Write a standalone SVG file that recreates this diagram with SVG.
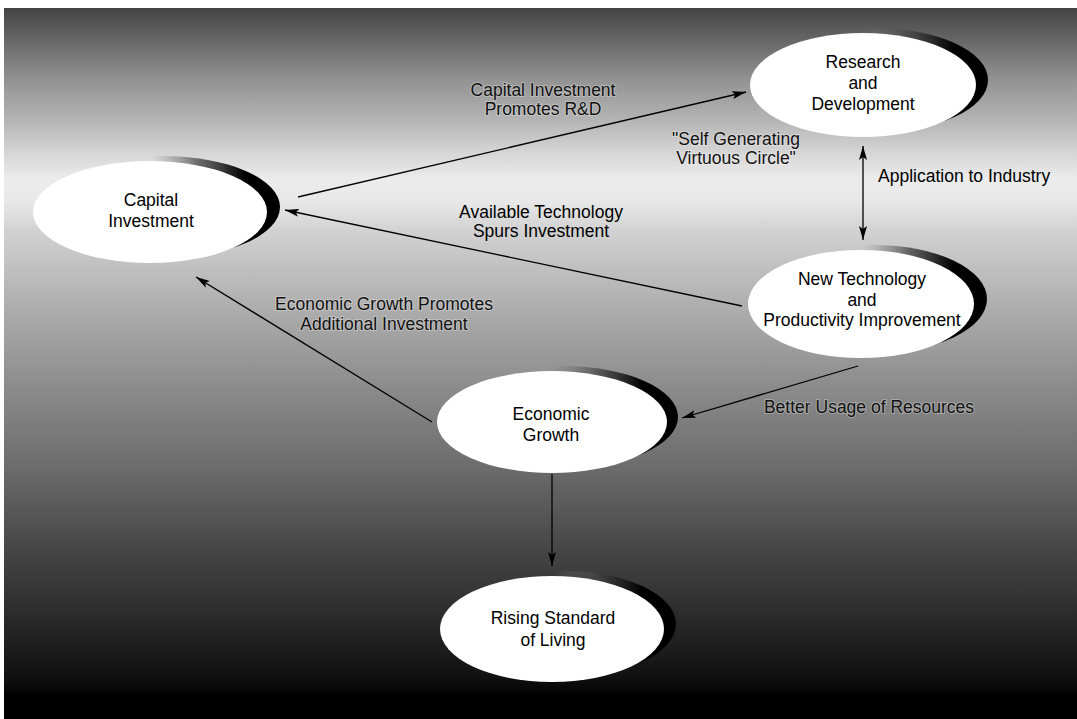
<svg xmlns="http://www.w3.org/2000/svg" width="1077" height="719" viewBox="0 0 1077 719">
<defs>
<linearGradient id="bg" gradientUnits="userSpaceOnUse" x1="0" y1="0" x2="0" y2="719">
<stop offset="0.011" stop-color="#444444"/>
<stop offset="0.05" stop-color="#626262"/>
<stop offset="0.11" stop-color="#929292"/>
<stop offset="0.167" stop-color="#b4b4b4"/>
<stop offset="0.21" stop-color="#d4d4d4"/>
<stop offset="0.25" stop-color="#ececec"/>
<stop offset="0.28" stop-color="#e8e8e8"/>
<stop offset="0.32" stop-color="#d2d2d2"/>
<stop offset="0.42" stop-color="#b0b0b0"/>
<stop offset="0.55" stop-color="#888888"/>
<stop offset="0.65" stop-color="#6c6c6c"/>
<stop offset="0.76" stop-color="#474747"/>
<stop offset="0.86" stop-color="#2a2a2a"/>
<stop offset="0.94" stop-color="#111111"/>
<stop offset="0.97" stop-color="#000000"/>
</linearGradient>
<linearGradient id="sh" x1="0" y1="0" x2="1" y2="0">
<stop offset="0.45" stop-color="#777" stop-opacity="0"/>
<stop offset="0.65" stop-color="#444" stop-opacity="0.75"/>
<stop offset="0.85" stop-color="#000" stop-opacity="1"/>
</linearGradient>
<marker id="arr" markerUnits="userSpaceOnUse" markerWidth="14" markerHeight="8" refX="14" refY="4" orient="auto-start-reverse" viewBox="0 0 14 8">
<path d="M0,0 L14,4 L0,8 L3,4 z" fill="#000"/>
</marker>
<style>
.node text{font-family:"Liberation Sans",Arial,sans-serif;font-size:17.5px;fill:#000;text-anchor:middle}
.face{fill:#fff}
.shadow{fill:url(#sh)}
.conn line{stroke:#000;stroke-width:1.3;fill:none}
.lbl{font-family:"Liberation Sans",Arial,sans-serif;font-size:17.5px;fill:#000;text-anchor:middle}
.halo{fill:#111;stroke:#ffffff;stroke-opacity:0.3;stroke-width:2;paint-order:stroke}
</style>
</defs>
<rect x="0" y="0" width="1077" height="719" fill="#fff"/>
<rect x="4" y="8" width="1073" height="711" fill="url(#bg)"/>

<g id="connectors" class="conn">
<line x1="298" y1="197" x2="746" y2="92" marker-end="url(#arr)"/>
<line x1="742" y1="306" x2="285" y2="210" marker-end="url(#arr)"/>
<line x1="432" y1="422" x2="196" y2="277" marker-end="url(#arr)"/>
<line x1="858" y1="366" x2="682" y2="418" marker-end="url(#arr)"/>
<line x1="863" y1="146" x2="863" y2="240" marker-start="url(#arr)" marker-end="url(#arr)"/>
<line x1="552" y1="474" x2="552" y2="566" marker-end="url(#arr)"/>
</g>

<g id="labels">
<text class="lbl halo" x="543" y="96">Capital Investment</text>
<text class="lbl halo" x="543" y="115">Promotes R&amp;D</text>
<text class="lbl halo" x="736" y="145">"Self Generating</text>
<text class="lbl halo" x="736" y="164">Virtuous Circle"</text>
<text class="lbl" x="878" y="182" style="text-anchor:start">Application to Industry</text>
<text class="lbl" x="541" y="218">Available Technology</text>
<text class="lbl" x="541" y="237">Spurs Investment</text>
<text class="lbl halo" x="384" y="310">Economic Growth Promotes</text>
<text class="lbl halo" x="384" y="330">Additional Investment</text>
<text class="lbl halo" x="869" y="413">Better Usage of Resources</text>
</g>

<g id="node-capital" class="node">
<ellipse class="shadow" cx="163" cy="207" rx="117" ry="51"/>
<ellipse class="face" cx="150" cy="212" rx="117" ry="51"/>
<text x="151" y="206">Capital</text>
<text x="151" y="227">Investment</text>
</g>

<g id="node-rd" class="node">
<ellipse class="shadow" cx="875" cy="80" rx="113" ry="52"/>
<ellipse class="face" cx="863" cy="85" rx="113" ry="52"/>
<text x="863" y="68">Research</text>
<text x="863" y="89">and</text>
<text x="863" y="110">Development</text>
</g>

<g id="node-newtech" class="node">
<ellipse class="shadow" cx="874" cy="299" rx="113" ry="54"/>
<ellipse class="face" cx="861" cy="304" rx="113" ry="54"/>
<text x="862" y="285">New Technology</text>
<text x="862" y="305.5">and</text>
<text x="862" y="326">Productivity Improvement</text>
</g>

<g id="node-growth" class="node">
<ellipse class="shadow" cx="563" cy="417" rx="115" ry="51"/>
<ellipse class="face" cx="552" cy="422" rx="115" ry="51"/>
<text x="551" y="420">Economic</text>
<text x="551" y="441">Growth</text>
</g>

<g id="node-living" class="node">
<ellipse class="shadow" cx="564" cy="624" rx="112" ry="53"/>
<ellipse class="face" cx="552" cy="629" rx="112" ry="53"/>
<text x="553" y="624">Rising Standard</text>
<text x="553" y="646">of Living</text>
</g>
</svg>
